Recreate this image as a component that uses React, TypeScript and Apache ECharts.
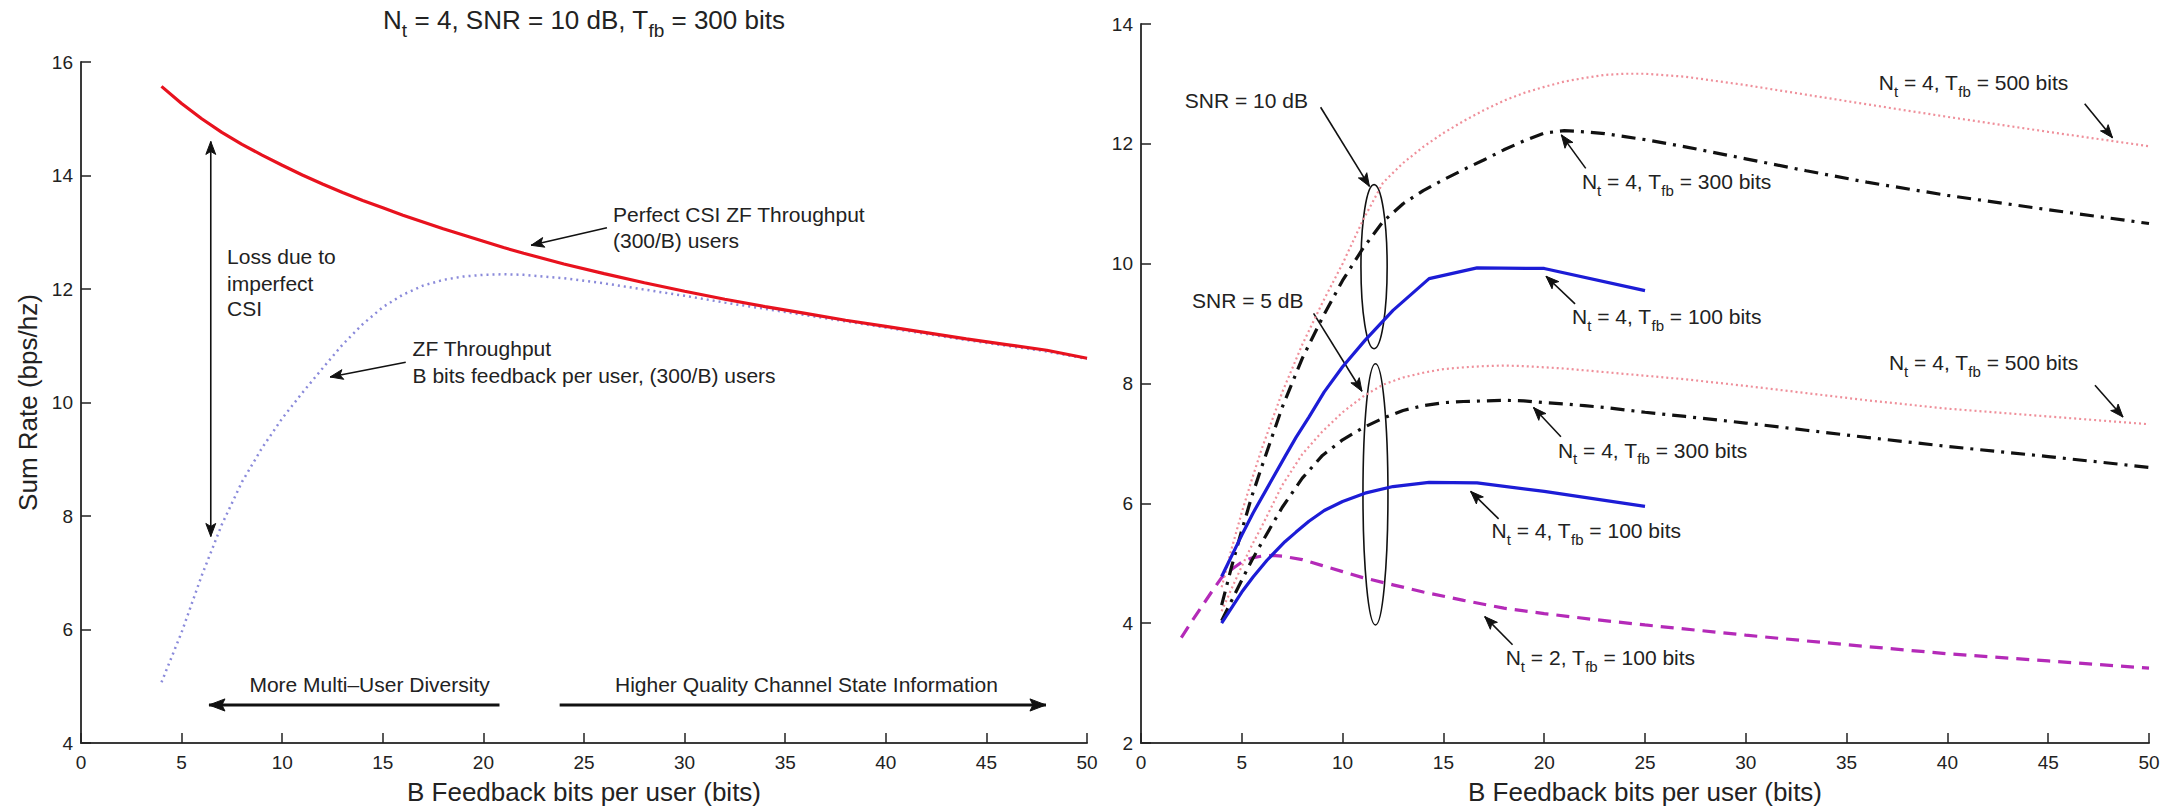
import React, { useEffect, useRef } from 'react';
import * as echarts from 'echarts';

const FONT = '"Liberation Sans", Arial, Helvetica, sans-serif';

// ---------- Left chart data ----------
const leftB = [4, 5, 6, 7, 8, 9, 10, 11, 12, 13, 14, 15, 16, 17, 18, 19, 20, 21, 22, 24, 26, 28, 30, 32, 34, 36, 38, 40, 42, 44, 46, 48, 50];
const perfectCsiZf = [15.57, 15.27, 15.0, 14.76, 14.55, 14.36, 14.18, 14.01, 13.85, 13.7, 13.56, 13.43, 13.3, 13.18, 13.06, 12.95, 12.84, 12.73, 12.63, 12.44, 12.27, 12.11, 11.96, 11.82, 11.69, 11.57, 11.45, 11.34, 11.23, 11.12, 11.02, 10.92, 10.78];
const zfFeedback = [5.07, 5.95, 6.95, 7.85, 8.6, 9.2, 9.72, 10.17, 10.6, 11.02, 11.38, 11.68, 11.9, 12.06, 12.16, 12.22, 12.25, 12.26, 12.25, 12.19, 12.1, 11.99, 11.88, 11.76, 11.65, 11.54, 11.43, 11.32, 11.21, 11.1, 11.0, 10.9, 10.77];

// ---------- Right chart data ----------
const tfb100B = [4, 5, 5.56, 6.25, 7.14, 7.69, 8.33, 9.09, 10, 11.11, 12.5, 14.29, 16.67, 20, 25];
const nt4Tfb100Snr10 = [4.78, 5.47, 5.84, 6.25, 6.78, 7.1, 7.44, 7.86, 8.28, 8.72, 9.22, 9.75, 9.93, 9.92, 9.55];
const nt4Tfb100Snr5 = [4.0, 4.52, 4.77, 5.05, 5.36, 5.52, 5.7, 5.88, 6.03, 6.17, 6.28, 6.35, 6.34, 6.2, 5.95];

const tfbB = [4, 4.5, 5, 5.5, 6, 7, 8, 9, 10, 11, 12, 13, 14, 15, 16, 17, 18, 19, 20, 21, 22, 23, 24, 25, 27, 30, 33, 36, 40, 45, 50];
const nt4Tfb300Snr10 = [4.3, 4.95, 5.55, 6.12, 6.62, 7.6, 8.42, 9.1, 9.72, 10.25, 10.7, 11.0, 11.22, 11.4, 11.57, 11.73, 11.9, 12.05, 12.18, 12.22, 12.2, 12.17, 12.12, 12.07, 11.95, 11.75, 11.55, 11.36, 11.14, 10.9, 10.67];
const nt4Tfb500Snr10 = [4.6, 5.25, 5.85, 6.4, 6.92, 7.85, 8.65, 9.35, 10.0, 10.72, 11.35, 11.68, 11.95, 12.18, 12.38, 12.56, 12.72, 12.85, 12.95, 13.04, 13.1, 13.15, 13.17, 13.17, 13.12, 12.98, 12.82, 12.66, 12.45, 12.2, 11.96];
const nt4Tfb300Snr5 = [4.04, 4.38, 4.72, 5.05, 5.35, 5.93, 6.42, 6.8, 7.06, 7.26, 7.42, 7.55, 7.63, 7.68, 7.7, 7.71, 7.72, 7.71, 7.68, 7.66, 7.63, 7.6, 7.56, 7.52, 7.45, 7.34, 7.22, 7.1, 6.95, 6.78, 6.6];
const nt4Tfb500Snr5 = [4.2, 4.58, 4.95, 5.3, 5.62, 6.3, 6.82, 7.2, 7.52, 7.78, 7.98, 8.1, 8.18, 8.24, 8.27, 8.29, 8.3, 8.29, 8.27, 8.25, 8.22, 8.19, 8.16, 8.13, 8.07, 7.96, 7.84, 7.72, 7.58, 7.45, 7.32];

const nt2B = [2, 2.5, 3, 3.5, 4, 4.5, 5, 5.5, 6, 6.5, 7, 8, 9, 10, 11, 12.5, 14, 16, 18, 20, 22.5, 25, 30, 35, 40, 45, 50];
const nt2Tfb100Snr5 = [3.76, 4.02, 4.27, 4.52, 4.76, 4.9, 5.02, 5.09, 5.12, 5.13, 5.12, 5.06, 4.96, 4.86, 4.76, 4.64, 4.52, 4.38, 4.25, 4.16, 4.06, 3.97, 3.8, 3.64, 3.49, 3.37, 3.25];

const zip = (xs: number[], ys: number[]) => xs.map((x, i) => [x, ys[i]]);

const axisCommon = {
  axisLine: { show: true, onZero: false, lineStyle: { color: '#3a3a3a', width: 2 } },
  axisTick: { show: true, inside: true, length: 10, lineStyle: { color: '#222', width: 1.5 } },
  splitLine: { show: false },
  axisLabel: { color: '#222', fontSize: 19, fontFamily: FONT },
};

const richBase = (size: number) => ({
  n: { fontSize: size, fontFamily: FONT, fill: '#222', lineHeight: Math.round(size * 1.5), verticalAlign: 'middle' },
  s: { fontSize: Math.round(size * 0.72), fontFamily: FONT, fill: '#222', lineHeight: Math.round(size * 0.72), verticalAlign: 'bottom' },
});

function txt(x: number, y: number, text: string, size = 21, align = 'left') {
  return {
    type: 'text',
    x,
    y,
    silent: true,
    style: {
      text,
      fontFamily: FONT,
      fontSize: size,
      fill: '#222',
      align,
      verticalAlign: 'middle',
      rich: richBase(size),
    },
  };
}

function arrow(a: number[], b: number[], both = false, width = 1.6, head = 13) {
  const els: any[] = [];
  els.push({
    type: 'line',
    silent: true,
    shape: { x1: a[0], y1: a[1], x2: b[0], y2: b[1] },
    style: { stroke: '#111', lineWidth: width },
  });
  const mk = (tip: number[], from: number[]) => {
    const dx = tip[0] - from[0];
    const dy = tip[1] - from[1];
    const L = Math.hypot(dx, dy) || 1;
    const ux = dx / L;
    const uy = dy / L;
    const bx = tip[0] - ux * head;
    const by = tip[1] - uy * head;
    const w = head * 0.38;
    return {
      type: 'polygon',
      silent: true,
      shape: { points: [[tip[0], tip[1]], [bx - uy * w, by + ux * w], [bx + ux * 3, by + uy * 3], [bx + uy * w, by - ux * w]] },
      style: { fill: '#111', stroke: '#111', lineWidth: 1 },
    };
  };
  els.push(mk(b, a));
  if (both) els.push(mk(a, b));
  return els;
}

export default function App() {
  const ref = useRef<HTMLDivElement>(null);

  useEffect(() => {
    if (!ref.current) return;
    const chart = echarts.init(ref.current, undefined, { renderer: 'svg' });

    const nameStyle = { fontSize: 26, fontFamily: FONT, color: '#222' };
    const option: any = {
      animation: false,
      backgroundColor: '#ffffff',
      grid: [
        { left: 81, width: 1006, top: 62, height: 689 },
        { left: 1141, width: 1008, top: 24, height: 728 },
      ],
      xAxis: [
        {
          gridIndex: 0, type: 'value', min: 0, max: 50, interval: 5, ...axisCommon,
          axisLabel: { ...axisCommon.axisLabel, margin: 10 },
          name: 'B Feedback bits per user (bits)', nameLocation: 'middle', nameGap: 36,
          nameTextStyle: nameStyle,
        },
        {
          gridIndex: 1, type: 'value', min: 0, max: 50, interval: 5, ...axisCommon,
          axisLabel: { ...axisCommon.axisLabel, margin: 10 },
          name: 'B Feedback bits per user (bits)', nameLocation: 'middle', nameGap: 36,
          nameTextStyle: nameStyle,
        },
      ],
      yAxis: [
        {
          gridIndex: 0, type: 'value', min: 4, max: 16, interval: 2, ...axisCommon,
          axisLabel: { ...axisCommon.axisLabel, margin: 8 },
          name: 'Sum Rate (bps/hz)', nameLocation: 'middle', nameGap: 40,
          nameTextStyle: nameStyle,
        },
        {
          gridIndex: 1, type: 'value', min: 2, max: 14, interval: 2, ...axisCommon,
          axisLabel: { ...axisCommon.axisLabel, margin: 8 },
        },
      ],
      series: [
        {
          type: 'line', xAxisIndex: 0, yAxisIndex: 0, showSymbol: false, silent: true,
          data: zip(leftB, zfFeedback),
          lineStyle: { color: '#8a8ada', width: 2.5, type: [2, 4] },
        },
        {
          type: 'line', xAxisIndex: 0, yAxisIndex: 0, showSymbol: false, silent: true,
          data: zip(leftB, perfectCsiZf),
          lineStyle: { color: '#e8121e', width: 3.2 },
        },
        {
          type: 'line', xAxisIndex: 1, yAxisIndex: 1, showSymbol: false, silent: true,
          data: zip(nt2B, nt2Tfb100Snr5),
          lineStyle: { color: '#b42ab8', width: 3.2, type: [13, 8] },
        },
        {
          type: 'line', xAxisIndex: 1, yAxisIndex: 1, showSymbol: false, silent: true,
          data: zip(tfbB, nt4Tfb500Snr10),
          lineStyle: { color: '#ef8f9a', width: 2.2, type: [2, 3] },
        },
        {
          type: 'line', xAxisIndex: 1, yAxisIndex: 1, showSymbol: false, silent: true,
          data: zip(tfbB, nt4Tfb500Snr5),
          lineStyle: { color: '#ef8f9a', width: 2.2, type: [2, 3] },
        },
        {
          type: 'line', xAxisIndex: 1, yAxisIndex: 1, showSymbol: false, silent: true,
          data: zip(tfbB, nt4Tfb300Snr10),
          lineStyle: { color: '#111111', width: 3.2, type: [14, 7, 3, 7] },
        },
        {
          type: 'line', xAxisIndex: 1, yAxisIndex: 1, showSymbol: false, silent: true,
          data: zip(tfbB, nt4Tfb300Snr5),
          lineStyle: { color: '#111111', width: 3.2, type: [14, 7, 3, 7] },
        },
        {
          type: 'line', xAxisIndex: 1, yAxisIndex: 1, showSymbol: false, silent: true,
          data: zip(tfb100B, nt4Tfb100Snr10),
          lineStyle: { color: '#1c1cd6', width: 3.2 },
        },
        {
          type: 'line', xAxisIndex: 1, yAxisIndex: 1, showSymbol: false, silent: true,
          data: zip(tfb100B, nt4Tfb100Snr5),
          lineStyle: { color: '#1c1cd6', width: 3.2 },
        },
      ],
    };
    chart.setOption(option);

    const L = (x: number, y: number) => chart.convertToPixel({ gridIndex: 0 }, [x, y]) as number[];
    const R = (x: number, y: number) => chart.convertToPixel({ gridIndex: 1 }, [x, y]) as number[];

    const g: any[] = [];
    // Title
    const tc = L(25, 16);
    g.push(txt(tc[0], 20, '{n|N}{s|t}{n| = 4, SNR = 10 dB, T}{s|fb}{n| = 300 bits}', 26, 'center'));

    // Left annotations
    const p1 = L(7.26, 12.57); g.push(txt(p1[0], p1[1], '{n|Loss due to}'));
    const p2 = L(7.26, 12.1); g.push(txt(p2[0], p2[1], '{n|imperfect}'));
    const p3 = L(7.26, 11.66); g.push(txt(p3[0], p3[1], '{n|CSI}'));
    g.push(...arrow(L(6.45, 14.6), L(6.45, 7.64), true));

    const p4 = L(26.44, 13.32); g.push(txt(p4[0], p4[1], '{n|Perfect CSI ZF Throughput}'));
    const p5 = L(26.44, 12.85); g.push(txt(p5[0], p5[1], '{n|(300/B) users}'));
    g.push(...arrow(L(26.14, 13.08), L(22.37, 12.77)));

    const p6 = L(16.48, 10.95); g.push(txt(p6[0], p6[1], '{n|ZF Throughput}'));
    const p7 = L(16.48, 10.48); g.push(txt(p7[0], p7[1], '{n|B bits feedback per user, (300/B) users}'));
    g.push(...arrow(L(16.14, 10.71), L(12.38, 10.45)));

    const p8 = L(8.37, 5.03); g.push(txt(p8[0], p8[1], '{n|More Multi\u2013User Diversity}'));
    g.push(...arrow(L(20.8, 4.67), L(6.36, 4.67), false, 3.2, 16));
    const p9 = L(26.54, 5.03); g.push(txt(p9[0], p9[1], '{n|Higher Quality Channel State Information}'));
    g.push(...arrow(L(23.79, 4.67), L(47.96, 4.67), false, 3.2, 16));

    // Right annotations
    const q1 = R(2.17, 12.73); g.push(txt(q1[0], q1[1], '{n|SNR = 10 dB}'));
    g.push(...arrow(R(8.91, 12.61), R(11.33, 11.29)));
    const q2 = R(2.53, 9.39); g.push(txt(q2[0], q2[1], '{n|SNR = 5 dB}'));
    g.push(...arrow(R(8.56, 9.17), R(10.96, 7.87)));

    const ell = (cx: number, cy: number, rx: number, ry: number) => {
      const c = R(cx, cy);
      const e = R(cx + rx, cy + ry);
      return {
        type: 'ellipse', silent: true,
        shape: { cx: c[0], cy: c[1], rx: Math.abs(e[0] - c[0]), ry: Math.abs(e[1] - c[1]) },
        style: { fill: 'none', stroke: '#111', lineWidth: 1.6 },
      };
    };
    g.push(ell(11.56, 9.95, 0.65, 1.37));
    g.push(ell(11.63, 6.15, 0.62, 2.18));

    const lab = (x: number, y: number, nt: string, tfb: string) => {
      const p = R(x, y);
      return txt(p[0], p[1], `{n|N}{s|t}{n| = ${nt}, T}{s|fb}{n| = ${tfb} bits}`);
    };
    g.push(lab(36.6, 13.02, '4', '500'));
    g.push(...arrow(R(46.81, 12.67), R(48.19, 12.1)));
    g.push(lab(21.87, 11.37, '4', '300'));
    g.push(...arrow(R(22.06, 11.59), R(20.85, 12.15)));
    g.push(lab(21.38, 9.11, '4', '100'));
    g.push(...arrow(R(21.53, 9.33), R(20.09, 9.79)));
    g.push(lab(37.1, 8.35, '4', '500'));
    g.push(...arrow(R(47.32, 7.97), R(48.71, 7.44)));
    g.push(lab(20.68, 6.89, '4', '300'));
    g.push(...arrow(R(20.83, 7.11), R(19.47, 7.6)));
    g.push(lab(17.39, 5.54, '4', '100'));
    g.push(...arrow(R(17.74, 5.74), R(16.35, 6.2)));
    g.push(lab(18.09, 3.42, '2', '100'));
    g.push(...arrow(R(18.43, 3.64), R(17.05, 4.11)));

    chart.setOption({ graphic: g });

    return () => {
      chart.dispose();
    };
  }, []);

  return (
    <div
      ref={ref}
      style={{ position: 'fixed', left: 0, top: 0, width: 2174, height: 810, background: '#fff' }}
    />
  );
}
